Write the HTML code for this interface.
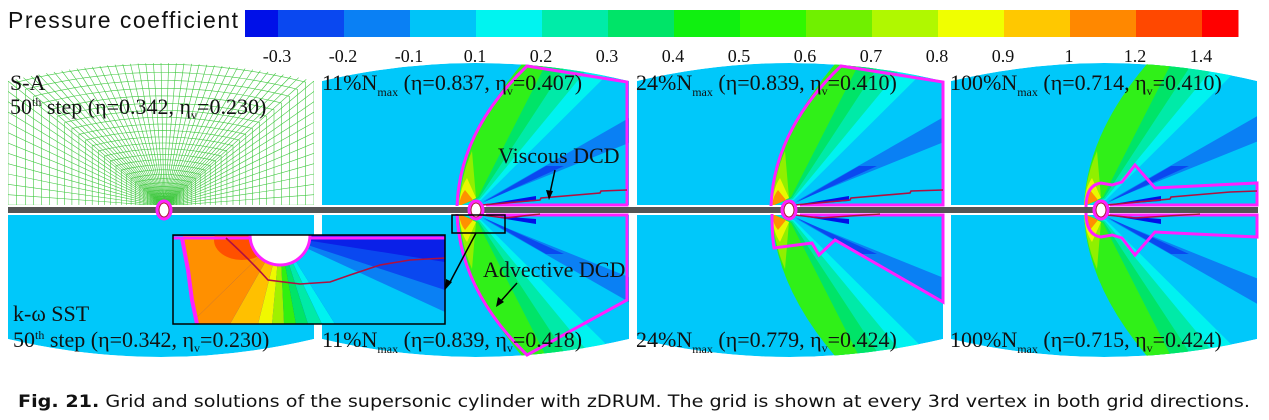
<!DOCTYPE html>
<html><head><meta charset="utf-8"><style>
html,body{margin:0;padding:0;background:#fff;width:1269px;height:420px;overflow:hidden}
svg text{font-family:"Liberation Serif",serif;fill:#111}
</style></head><body>
<svg id="s" xmlns="http://www.w3.org/2000/svg" width="1269" height="420" viewBox="0 0 1269 420">
<defs id="defs"></defs>
<g id="cb"></g>
<g id="panels"></g>
<g id="over"></g>
<g id="txt">
<text x="8" y="28" style="font-family:'Liberation Sans',sans-serif;font-size:23px" textLength="230">Pressure coefficient</text>
<g style="font-size:18px" text-anchor="middle">
<text x="277" y="62">-0.3</text><text x="343" y="62">-0.2</text><text x="409" y="62">-0.1</text><text x="475" y="62">0.1</text><text x="541" y="62">0.2</text><text x="607" y="62">0.3</text><text x="673" y="62">0.4</text><text x="739" y="62">0.5</text><text x="805" y="62">0.6</text><text x="871" y="62">0.7</text><text x="937" y="62">0.8</text><text x="1003" y="62">0.9</text><text x="1069" y="62">1</text><text x="1135" y="62">1.2</text><text x="1201" y="62">1.4</text>
</g>
<g style="font-size:22px">
<text x="10" y="90">S-A</text>
<text x="10" y="114">50<tspan dy="-8" style="font-size:12px">th</tspan><tspan dy="8"> step (η=0.342, η</tspan><tspan dy="5" style="font-size:12px">v</tspan><tspan dy="-5">=0.230)</tspan></text>
<text x="322" y="90">11%N<tspan dy="6" style="font-size:12px">max</tspan><tspan dy="-6"> (η=0.837, η</tspan><tspan dy="5" style="font-size:12px">v</tspan><tspan dy="-5">=0.407)</tspan></text>
<text x="636" y="90">24%N<tspan dy="6" style="font-size:12px">max</tspan><tspan dy="-6"> (η=0.839, η</tspan><tspan dy="5" style="font-size:12px">v</tspan><tspan dy="-5">=0.410)</tspan></text>
<text x="950" y="90">100%N<tspan dy="6" style="font-size:12px">max</tspan><tspan dy="-6"> (η=0.714, η</tspan><tspan dy="5" style="font-size:12px">v</tspan><tspan dy="-5">=0.410)</tspan></text>
<text x="13" y="321">k-ω SST</text>
<text x="13" y="347">50<tspan dy="-8" style="font-size:12px">th</tspan><tspan dy="8"> step (η=0.342, η</tspan><tspan dy="5" style="font-size:12px">v</tspan><tspan dy="-5">=0.230)</tspan></text>
<text x="322" y="347">11%N<tspan dy="6" style="font-size:12px">max</tspan><tspan dy="-6"> (η=0.839, η</tspan><tspan dy="5" style="font-size:12px">v</tspan><tspan dy="-5">=0.418)</tspan></text>
<text x="636" y="347">24%N<tspan dy="6" style="font-size:12px">max</tspan><tspan dy="-6"> (η=0.779, η</tspan><tspan dy="5" style="font-size:12px">v</tspan><tspan dy="-5">=0.424)</tspan></text>
<text x="950" y="347">100%N<tspan dy="6" style="font-size:12px">max</tspan><tspan dy="-6"> (η=0.715, η</tspan><tspan dy="5" style="font-size:12px">v</tspan><tspan dy="-5">=0.424)</tspan></text>
<text x="498" y="163">Viscous DCD</text>
<text x="483" y="277">Advective DCD</text>
</g>
<text x="18" y="407" style="font-family:'DejaVu Sans',sans-serif;font-size:17px" textLength="1232" lengthAdjust="spacingAndGlyphs"><tspan style="font-weight:bold">Fig. 21.</tspan>  Grid and solutions of the supersonic cylinder with zDRUM. The grid is shown at every 3rd vertex in both grid directions.</text>
</g>
</svg>
<script>
const NS='http://www.w3.org/2000/svg';
function el(t,a,p){const e=document.createElementNS(NS,t);for(const k in a)e.setAttribute(k,a[k]);p.appendChild(e);return e;}
const defs=document.getElementById('defs'),cb=document.getElementById('cb'),pg=document.getElementById('panels'),ov=document.getElementById('over');
const cols=['#0010e8','#0a48f0','#0a80f4','#00c4f8','#00f4f0','#00eca8','#00e468','#10f010','#30f800','#70f000','#b0f800','#f0ff00','#ffc800','#ff8800','#ff4800','#ff0000'];
let x=245;
for(let i=0;i<16;i++){const w=(i==0||i==15)?33:66;const ww=i==15?36:w;el('rect',{x:x,y:10,width:ww+0.5,height:27,fill:cols[i]},cb);x+=w;}
const P=[{x0:8,x1:314,cx:164},{x0:322,x1:629,cx:476},{x0:637,x1:943,cx:789},{x0:951,x1:1257,cx:1101}];
function topPath(p){const xm=(p.x0+p.x1)/2;return `M${p.x0},205 L${p.x0},81 Q${xm},45 ${p.x1},81 L${p.x1},205 Z`;}
function botPath(p){const xm=(p.x0+p.x1)/2;return `M${p.x0},215 L${p.x0},339 Q${xm},375 ${p.x1},339 L${p.x1},215 Z`;}
P.forEach((p,i)=>{
 const c1=el('clipPath',{id:'t'+i},defs);el('path',{d:topPath(p)},c1);
 const c2=el('clipPath',{id:'b'+i},defs);el('path',{d:botPath(p)},c2);
});
function fan(p,i,top){
 const g=el('g',{'clip-path':`url(#${top?'t':'b'}${i})`},pg);
 el('path',{d:top?topPath(p):botPath(p),fill:'#00c8fa'},g);
 if(i==0&&!top) return;
 const l=el('g',{transform:`translate(${p.cx},${top?206:214}) scale(1,${top?-1:1})`},g);
 const sh='M-17,0 Q-14,75 53,150';
 [['#00f2f0',150,5,6],['#00eaa8',122,4,7],['#00e468',96,3,8],['#30f018',74,2,9]].forEach(a=>{
   el('path',{d:`${sh} L${a[1]},150 L${a[2]},${a[3]} Z`,fill:a[0]},l);});
 el('path',{d:'M-17,0 Q-15,30 -4,55 L0,8 Z',fill:'#90f000'},l);
 el('path',{d:'M-17,0 Q-16,18 -9,28 L0,8 Z',fill:'#e8f800'},l);
 el('path',{d:'M-17,0 Q-16,10 -11,16 L-3,6 Z',fill:'#ff9000'},l);
 el('path',{d:'M6,4 L160,66 L160,92 Z',fill:'#0a80f4'},l);
 el('path',{d:'M6,3 L88,40 L70,40 Z',fill:'#0a48f0'},l);
 el('path',{d:'M6,1 L60,10 L60,5 Z',fill:'#0010e8'},l);
}
P.forEach((p,i)=>{ if(i>0) fan(p,i,true); fan(p,i,false); });
(function(){
 const p=P[0],cx=164,cy=206;const g=el('g',{'clip-path':'url(#t0)',stroke:'#40c840','stroke-width':'0.6',fill:'none'},pg);
 const B=[];
 function topy(x){const t=(x-p.x0)/(p.x1-p.x0);return (1-t)*(1-t)*81+2*t*(1-t)*45+t*t*81;}
 for(let k=0;k<=12;k++)B.push([p.x0,205-k*(205-81)/12]);
 for(let k=1;k<40;k++){const xx=p.x0+k*(p.x1-p.x0)/40;B.push([xx,topy(xx)]);}
 for(let k=12;k>=0;k--)B.push([p.x1,205-k*(205-81)/12]);
 B.forEach(b=>el('line',{x1:cx,y1:cy,x2:b[0],y2:b[1]},g));
 for(let j=1;j<=30;j++){const s=Math.pow(j/30,1.7);let d='';B.forEach((b,k)=>{const px=cx+s*(b[0]-cx),py=cy+s*(b[1]-cy)*1.05;d+=(k?'L':'M')+px.toFixed(1)+','+Math.min(py,206).toFixed(1);});el('path',{d:d},g);}
})();
el('rect',{x:8,y:207,width:1250,height:6,fill:'#555'},ov);
const M={fill:'none',stroke:'#ff20ff','stroke-width':3,'stroke-linejoin':'miter'};
['M457,206 Q460,130 527,66 L627,82 L627,205 L486,205',
 'M457,214 Q460,290 527,355 L627,300 L627,215 L486,215',
 'M771,206 Q774,130 841,66 L943,82 L943,205 L800,205',
 'M772,214 Q772,235 774,248 L812,243 L819,255 L835,240 L943,302 L943,215 L800,215',
 'M1086,207 Q1086,185 1101,183 L1112,185 L1122,182 L1135,165 L1155,188 L1257,183 L1257,205 L1110,205',
 'M1086,213 Q1086,235 1101,237 L1112,235 L1122,238 L1135,255 L1155,232 L1257,237 L1257,215 L1110,215'
].forEach(d=>el('path',Object.assign({d:d},M),ov));
const R={fill:'none',stroke:'#b01040','stroke-width':1.6};
['M482,205 L540,200 L541,198 L600,193 L601,191 L627,190','M482,215 L505,218 L540,214',
 'M795,205 L850,200 L851,198 L910,193 L911,191 L943,190','M795,215 L820,218 L880,214',
 'M1107,205 L1170,199 L1171,197 L1230,192 L1257,191','M1107,215 L1135,218 L1200,214'
].forEach(d=>el('path',Object.assign({d:d},R),ov));
P.forEach(p=>{el('ellipse',{cx:p.cx,cy:210,rx:7,ry:9,fill:'#fff',stroke:'#ff20ff','stroke-width':3},ov);
 el('ellipse',{cx:p.cx,cy:210,rx:5,ry:7,fill:'#fff',stroke:'#b01040','stroke-width':1},ov);});
const ic=el('clipPath',{id:'ins'},defs);el('rect',{x:173,y:235,width:272,height:89},ic);
const ig=el('g',{'clip-path':'url(#ins)'},ov);
el('rect',{x:173,y:235,width:272,height:89,fill:'#0a20e8'},ig);
el('path',{d:'M280,236 L445,262 L445,324 L360,324 Z',fill:'#0a48f0'},ig);
el('path',{d:'M280,236 L445,290 L445,324 L345,324 Z',fill:'#0a80f4'},ig);
el('path',{d:'M280,236 L445,312 L445,324 L335,324 Z',fill:'#00c8fa'},ig);
[['#00f2f0',335,322],['#00eaa8',322,308],['#00e468',308,296],['#30f010',296,284],['#a0f000',284,272],['#f0f800',272,258],['#ffc000',258,230],['#ff9000',230,190]].forEach(a=>{
 el('path',{d:`M280,236 L${a[1]},324 L${a[2]},324 Z`,fill:a[0]},ig);});
el('path',{d:'M280,236 L190,324 L173,324 L173,236 Z',fill:'#ff9000'},ig);
el('ellipse',{cx:242,cy:240,rx:28,ry:20,fill:'#ff5000'},ig);
el('path',{d:'M173,236 L183,236 L196,324 L173,324 Z',fill:'#00c8fa'},ig);
el('path',{d:'M182,238 L188,270 L192,300 L197,324',fill:'none',stroke:'#ff20ff','stroke-width':4},ig);
el('line',{x1:173,y1:238,x2:445,y2:238,stroke:'#ff20ff','stroke-width':3},ig);
el('circle',{cx:280,cy:235,r:30,fill:'#fff',stroke:'#ff20ff','stroke-width':3},ig);
el('path',{d:'M226,238 Q250,260 268,280 L300,284 L330,282 L350,275 L380,265 L410,260 L445,258',fill:'none',stroke:'#b01040','stroke-width':1.6},ig);
el('rect',{x:173,y:235,width:272,height:89,fill:'none',stroke:'#000','stroke-width':1.5},ov);
el('rect',{x:452,y:215,width:53,height:18,fill:'none',stroke:'#000','stroke-width':1.5},ov);
const A={stroke:'#000','stroke-width':1.5};
el('line',Object.assign({x1:476,y1:233,x2:449,y2:284},A),ov);
el('path',{d:'M445,290 L446,279 L452,282 Z',fill:'#000'},ov);
el('line',Object.assign({x1:555,y1:170,x2:550,y2:193},A),ov);
el('path',{d:'M549,200 L546,190 L553,191 Z',fill:'#000'},ov);
el('line',Object.assign({x1:517,y1:283,x2:500,y2:302},A),ov);
el('path',{d:'M496,307 L498,297 L504,302 Z',fill:'#000'},ov);
</script>
</body></html>
